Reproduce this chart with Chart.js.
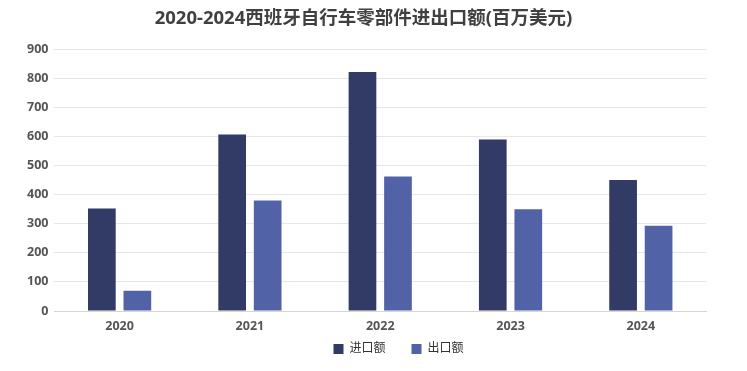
<!DOCTYPE html>
<html>
<head>
<meta charset="utf-8">
<script src="https://cdn.jsdelivr.net/npm/chart.js@4/dist/chart.umd.min.js"></script>
<style>
  html, body { margin: 0; padding: 0; background: #fff; }
  #wrap { width: 747px; height: 371px; }
</style>
</head>
<body>
<div id="wrap"><canvas id="c"></canvas></div>
<script>
const years = ["2020", "2021", "2022", "2023", "2024"];
const importValues = [352, 607, 822, 590, 450];
const exportValues = [70, 380, 462, 350, 293];
const yTicks = [0, 100, 200, 300, 400, 500, 600, 700, 800, 900];

const fontFamily = '"Noto Sans", "Noto Sans CJK SC", sans-serif';

// legend: wide gap between items, but keep it close to the axis
const legendTweak = {
  id: "legendTweak",
  afterInit(chart) {
    const legend = chart.legend;
    const fit = legend.fit;
    legend.fit = function () {
      fit.call(this);
      this.height = 29;
    };
  },
  afterLayout(chart) {
    const lg = chart.legend;
    lg.top -= 25;
    lg.left += 35;
    lg.right += 35;
  }
};

new Chart(document.getElementById("c").getContext("2d"), {
  type: "bar",
  data: {
    labels: years,
    datasets: [
      {
        label: "进口额",
        data: importValues,
        backgroundColor: "#323b66",
        barPercentage: 0.78,
        categoryPercentage: 0.545
      },
      {
        label: "出口额",
        data: exportValues,
        backgroundColor: "#5262a7",
        barPercentage: 0.78,
        categoryPercentage: 0.545
      }
    ]
  },
  options: {
    responsive: true,
    maintainAspectRatio: false,
    animation: false,
    layout: { padding: { left: 21, right: 41, top: 4, bottom: 0 } },
    plugins: {
      title: {
        display: true,
        text: "2020-2024西班牙自行车零部件进出口额(百万美元)",
        color: "#404040",
        font: { family: fontFamily, size: 18.5, weight: "bold" },
        padding: { top: 4, bottom: 19 }
      },
      legend: {
        position: "bottom",
        labels: {
          color: "#333",
          boxWidth: 10,
          boxHeight: 10,
          padding: 26,
          font: { family: fontFamily, size: 12 }
        }
      },
      tooltip: { enabled: false }
    },
    scales: {
      x: {
        grid: { display: false, drawTicks: false },
        border: { color: "#d6d6d6" },
        ticks: {
          color: "#555",
          padding: 8,
          font: { family: fontFamily, size: 12.5, weight: "bold" }
        }
      },
      y: {
        min: 0,
        max: 900,
        afterBuildTicks: axis => { axis.ticks = yTicks.map(v => ({ value: v })); },
        grid: { color: "#e6e6e6", drawTicks: false },
        border: { display: false },
        ticks: {
          color: "#555",
          padding: 6,
          font: { family: fontFamily, size: 12.5, weight: "bold" }
        }
      }
    }
  },
  plugins: [legendTweak]
});
</script>
</body>
</html>
